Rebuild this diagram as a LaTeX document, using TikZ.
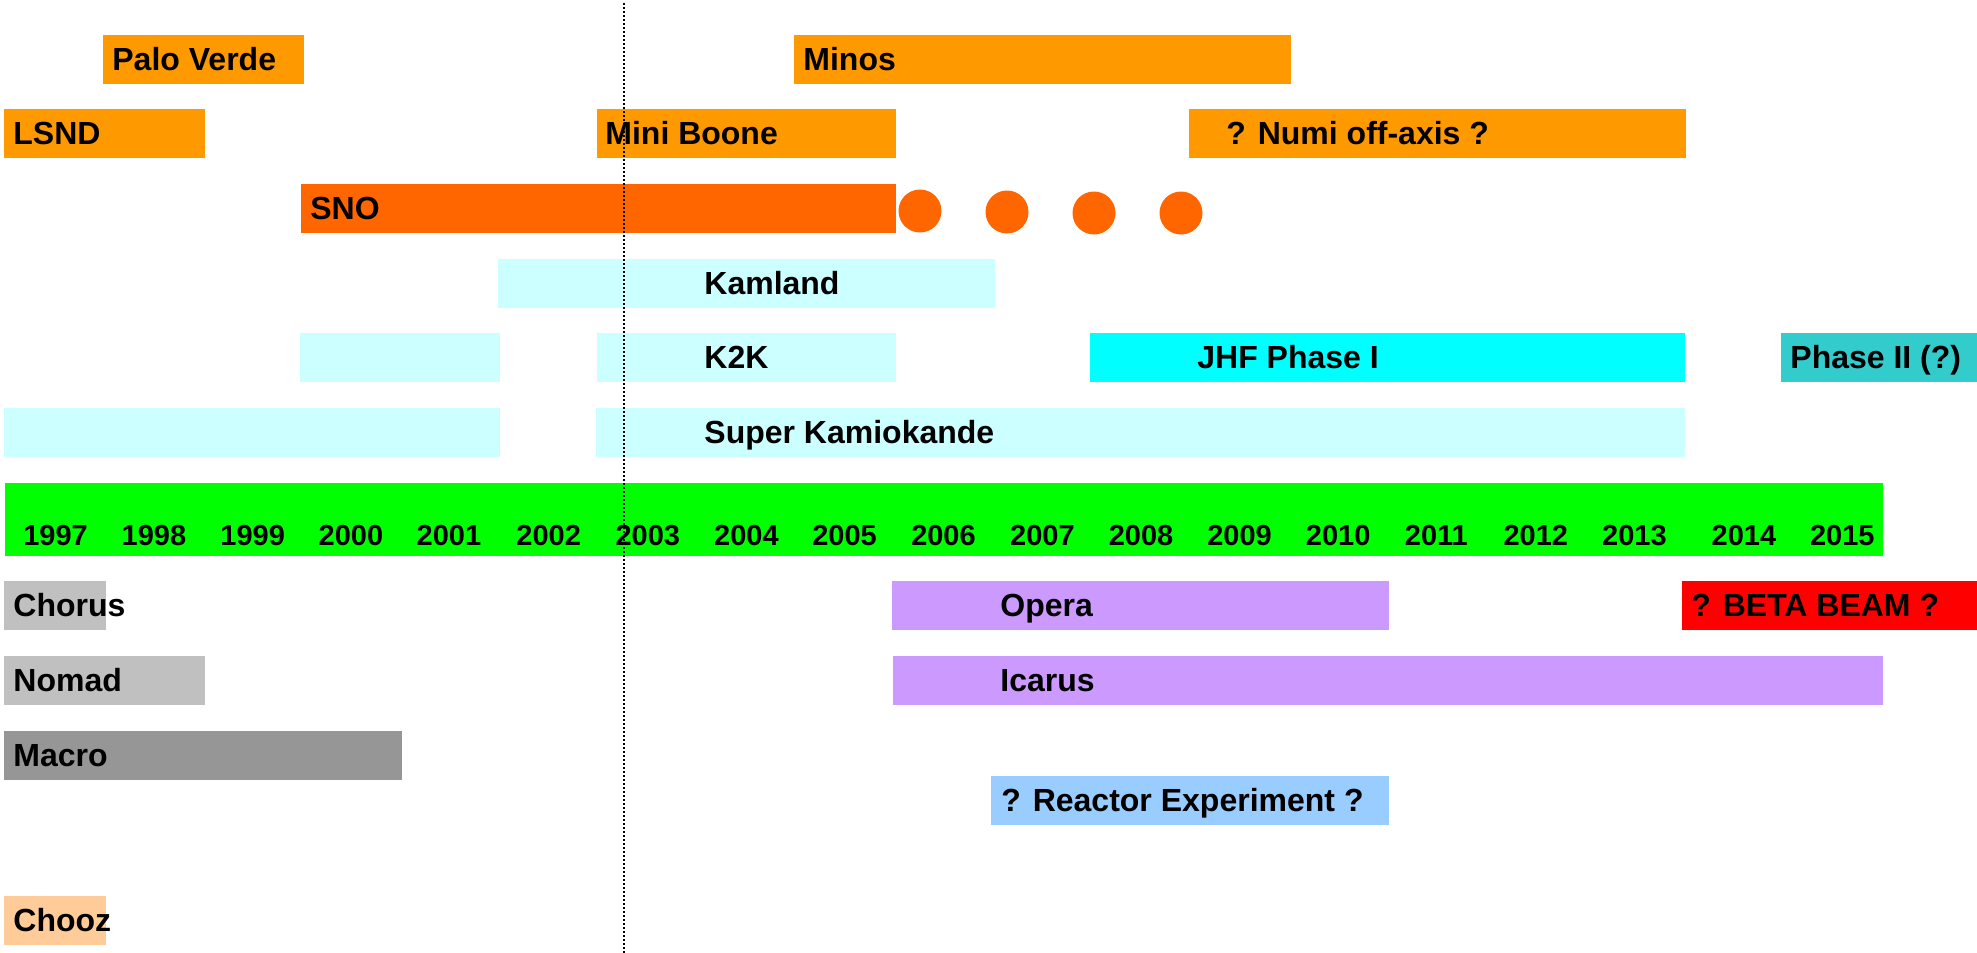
\documentclass[tikz,border=0pt]{standalone}
\usepackage{fontspec}
\setmainfont{Liberation Sans}
\definecolor{cOrange}{HTML}{FF9900}
\definecolor{cSNO}{HTML}{FF6600}
\definecolor{cLCyan}{HTML}{CCFFFF}
\definecolor{cCyan}{HTML}{00FFFF}
\definecolor{cTeal}{HTML}{33CCCC}
\definecolor{cGreen}{HTML}{00FF00}
\definecolor{cGray}{HTML}{C0C0C0}
\definecolor{cDGray}{HTML}{969696}
\definecolor{cPurple}{HTML}{CC99FF}
\definecolor{cRed}{HTML}{FF0000}
\definecolor{cBlue}{HTML}{99CCFF}
\definecolor{cPeach}{HTML}{FFCC99}
\tikzset{
  lbl/.style={anchor=base west, inner sep=0pt, font=\bfseries\fontsize{16}{19}\selectfont},
  yr/.style={anchor=base, inner sep=0pt, font=\bfseries\fontsize{14.5}{17}\selectfont},
  dot/.style={fill=cSNO, draw=none, circle, minimum size=21.5pt, inner sep=0pt},
}
\begin{document}
\begin{tikzpicture}[x=0.5pt,y=-0.5pt]
\useasboundingbox (0,0) rectangle (1977,953);
% bars
\fill[cOrange] (103,35) rectangle (304,84);
\fill[cOrange] (794,35) rectangle (1291,84);
\fill[cOrange] (4,109) rectangle (205,158);
\fill[cOrange] (597,109) rectangle (896,158);
\fill[cOrange] (1189,109) rectangle (1686,158);
\fill[cSNO] (301,184) rectangle (896,233);
\fill[cLCyan] (498,259) rectangle (995,308);
\fill[cLCyan] (300,333) rectangle (500,382);
\fill[cLCyan] (597,333) rectangle (896,382);
\fill[cCyan] (1090,333) rectangle (1685,382);
\fill[cTeal] (1781,333) rectangle (1977,382);
\fill[cLCyan] (4,408) rectangle (500,457);
\fill[cLCyan] (596,408) rectangle (1685,457);
\fill[cGreen] (5,483) rectangle (1883,556);
\fill[cGray] (4,581) rectangle (106,630);
\fill[cPurple] (892,581) rectangle (1389,630);
\fill[cRed] (1682,581) rectangle (1977,630);
\fill[cGray] (4,656) rectangle (205,705);
\fill[cPurple] (893,656) rectangle (1883,705);
\fill[cDGray] (4,731) rectangle (402,780);
\fill[cBlue] (991,776) rectangle (1389,825);
\fill[cPeach] (4,896) rectangle (106,945);
% dots after SNO
\node[dot] (d1) at (920,211) {};
\node[dot] (d2) at (1007,212) {};
\node[dot] (d3) at (1094,213) {};
\node[dot] (d4) at (1181,213) {};
% labels
\node[lbl] (palo) at (112,70) {Palo Verde};
\node[lbl] (minos) at (803,70) {Minos};
\node[lbl] (lsnd) at (13,144) {LSND};
\node[lbl] (mini) at (605,144) {Mini Boone};
\node[lbl] (numi) at (1226,144) {? Numi off-axis ?};
\node[lbl] (sno) at (310,219) {SNO};
\node[lbl] (kam) at (704,294) {Kamland};
\node[lbl] (k2k) at (704,368) {K2K};
\node[lbl] (jhf) at (1197,368) {JHF Phase I};
\node[lbl] (ph2) at (1790,368) {Phase II (?)};
\node[lbl] (superk) at (704,443) {Super Kamiokande};
\node[lbl] (chorus) at (13,616) {Chorus};
\node[lbl] (opera) at (1000,616) {Opera};
\node[lbl] (beta) at (1691,616) {? BETA BEAM ?};
\node[lbl] (nomad) at (13,691) {Nomad};
\node[lbl] (icarus) at (1000,691) {Icarus};
\node[lbl] (macro) at (13,766) {Macro};
\node[lbl] (reactor) at (1001,811) {? Reactor Experiment ?};
\node[lbl] (chooz) at (13,931) {Chooz};
% years
\foreach \yy/\xx in {1997/55.6,1998/154,1999/252.7,2000/351,2001/449,2002/548.7,2003/647.8,2004/746.4,2005/844.6,2006/943.5,2007/1042.4,2008/1141,2009/1239.5,2010/1338.2,2011/1436.4,2012/1535.8,2013/1634.4,2014/1743.9,2015/1842.3}
  \node[yr] (y\yy) at (\xx,545) {\yy};
% now line
\coordinate (nowtop) at (624,3);
\coordinate (nowbot) at (624,953);
\draw[line width=0.8pt, dash pattern=on 0.8pt off 1.2pt] (nowtop) -- (nowbot);
\end{tikzpicture}
\end{document}
